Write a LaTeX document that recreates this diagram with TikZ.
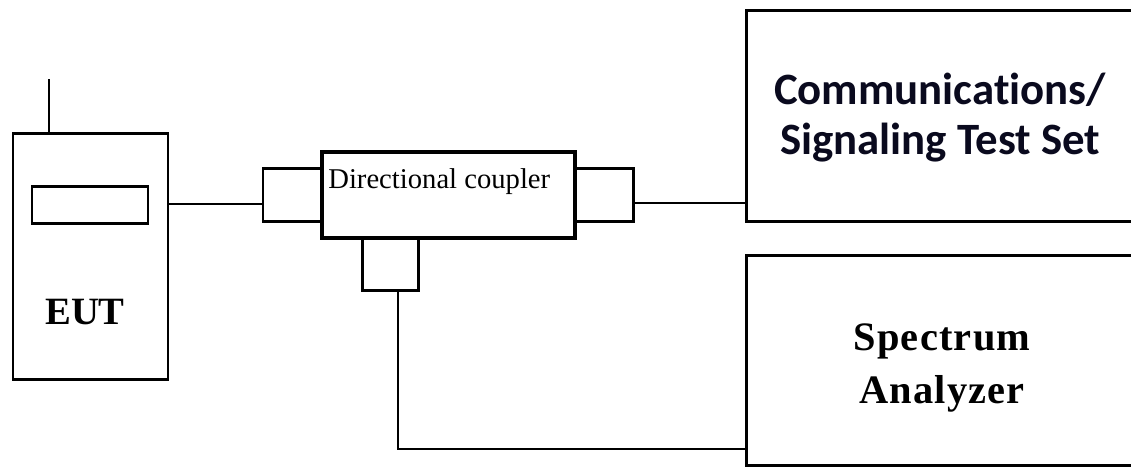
\documentclass[tikz,border=0pt]{standalone}
\usepackage{fontspec}
\setmainfont{Liberation Serif}
\newfontfamily\calib[Ligatures=NoCommon]{Carlito}
\usetikzlibrary{fit}
\begin{document}
\begin{tikzpicture}[x=0.02cm,y=-0.02cm,
  box/.style={draw,line width=1.7pt,inner sep=0pt,fill=white},
  wire/.style={line width=1.5pt},
  lbl/.style={inner sep=0pt,align=center}]
\useasboundingbox (0,0) rectangle (1131,468);
\clip (0,0) rectangle (1131,468);
% EUT
\node[box,fit={(13,133)(168,379)}] (eut) {};
\node[box,fit={(32,186)(148,223)}] (disp) {};
\node[lbl,font=\fontsize{22}{24}\selectfont\bfseries] (eutt) at (85,312) {EUT};
\coordinate (ant) at (49,79);
\draw[wire] (ant) -- (ant |- eut.north);
% coupler
\node[box,fit={(263,168)(322,221)}] (lport) {};
\node[box,fit={(575,168)(633,221)}] (rport) {};
\node[box,fit={(362,238)(418,290)}] (bport) {};
\node[box,line width=2pt,fit={(322,152)(575,238)}] (coup) {};
\node[lbl,font=\fontsize{16.3}{18}\selectfont,anchor=base west] (coupt) at (328,188) {Directional coupler};
% instruments
\node[box,fit={(746,10)(1145,221)}] (comm) {};
\node[lbl,font=\calib\fontsize{25.5}{28.5}\selectfont\bfseries,color={rgb,255:red,10;green,10;blue,30}] (commt) at (940,118) {Communications/\\Signaling Test Set};
\node[box,fit={(746,255)(1145,465)}] (spec) {};
\node[lbl,font=\fontsize{23}{30.5}\selectfont\bfseries\addfontfeature{LetterSpace=3}] (spect) at (942,368) {Spectrum\\Analyzer};
% wires
\coordinate (y1) at (0,204);
\coordinate (y2) at (0,203);
\coordinate (xb) at (398,449);
\draw[wire] (y1 -| eut.east) -- (y1 -| lport.west);
\draw[wire] (y2 -| rport.east) -- (y2 -| comm.west);
\draw[wire] (xb |- bport.south) -- (xb) -- (xb -| spec.west);
\end{tikzpicture}
\end{document}
